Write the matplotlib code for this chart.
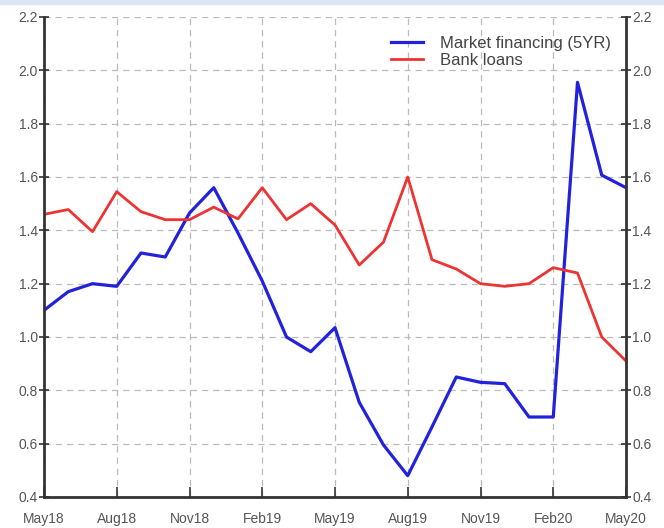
import numpy as np
import matplotlib
matplotlib.use('Agg')
import matplotlib.pyplot as plt
from matplotlib.patches import Rectangle

# monthly observations, May 2018 - May 2020
months = ['May18', 'Jun18', 'Jul18', 'Aug18', 'Sep18', 'Oct18', 'Nov18', 'Dec18',
          'Jan19', 'Feb19', 'Mar19', 'Apr19', 'May19', 'Jun19', 'Jul19', 'Aug19',
          'Sep19', 'Oct19', 'Nov19', 'Dec19', 'Jan20', 'Feb20', 'Mar20', 'Apr20', 'May20']
market = [1.10, 1.17, 1.20, 1.19, 1.315, 1.30, 1.465, 1.56, 1.39, 1.21, 1.00, 0.945,
          1.035, 0.755, 0.595, 0.48, 0.663, 0.85, 0.83, 0.825, 0.70, 0.70, 1.955, 1.607, 1.56]
bank = [1.46, 1.478, 1.395, 1.545, 1.47, 1.44, 1.44, 1.487, 1.443, 1.56, 1.44, 1.50,
        1.42, 1.27, 1.356, 1.60, 1.29, 1.255, 1.20, 1.19, 1.20, 1.26, 1.24, 1.00, 0.91]
yticks = [0.4, 0.6, 0.8, 1.0, 1.2, 1.4, 1.6, 1.8, 2.0, 2.2]

plt.rcParams['font.family'] = ['Liberation Sans', 'DejaVu Sans']

x = np.arange(len(months))

fig = plt.figure(figsize=(6.64, 5.28), dpi=100)
fig.patches.append(Rectangle((0, 0.992), 1, 0.008, transform=fig.transFigure,
                             color='#dce7f4', zorder=0))
ax = fig.add_axes([44 / 664, 31 / 528, 582 / 664, 480 / 528])

ax.plot(x, market, color='#2222dd', lw=2.3, label='Market financing (5YR)')
ax.plot(x, bank, color='#ee3333', lw=2.0, label='Bank loans')

ax.set_xlim(0, len(months) - 1)
ax.set_ylim(0.4, 2.2)
ax.set_yticks(yticks)
ax.set_yticklabels(['%.1f' % v for v in yticks])
ax.set_xticks(x[::3])
ax.set_xticklabels(months[::3])

ax.grid(True, color='#bbbbbb', ls=(0, (5, 4)), lw=0.9)
for s in ['left', 'right', 'bottom']:
    ax.spines[s].set_linewidth(2.0)
    ax.spines[s].set_color('#333333')
ax.spines['top'].set_visible(False)

ax.tick_params(axis='y', direction='inout', length=7, width=1.2, colors='#333333',
               labelcolor='#555555', labelsize=10, left=True, right=True,
               labelleft=True, labelright=True, pad=1)
ax.tick_params(axis='x', direction='in', length=7, width=1.2, colors='#333333',
               labelcolor='#555555', labelsize=10, pad=11)

leg = ax.legend(loc='upper right', frameon=False, fontsize=12, handlelength=1.9,
                borderaxespad=0.0, labelspacing=0.12, handletextpad=1.0,
                bbox_to_anchor=(0.985, 0.975))
for t in leg.get_texts():
    t.set_color('#444444')

plt.savefig('out.png', dpi=100)
